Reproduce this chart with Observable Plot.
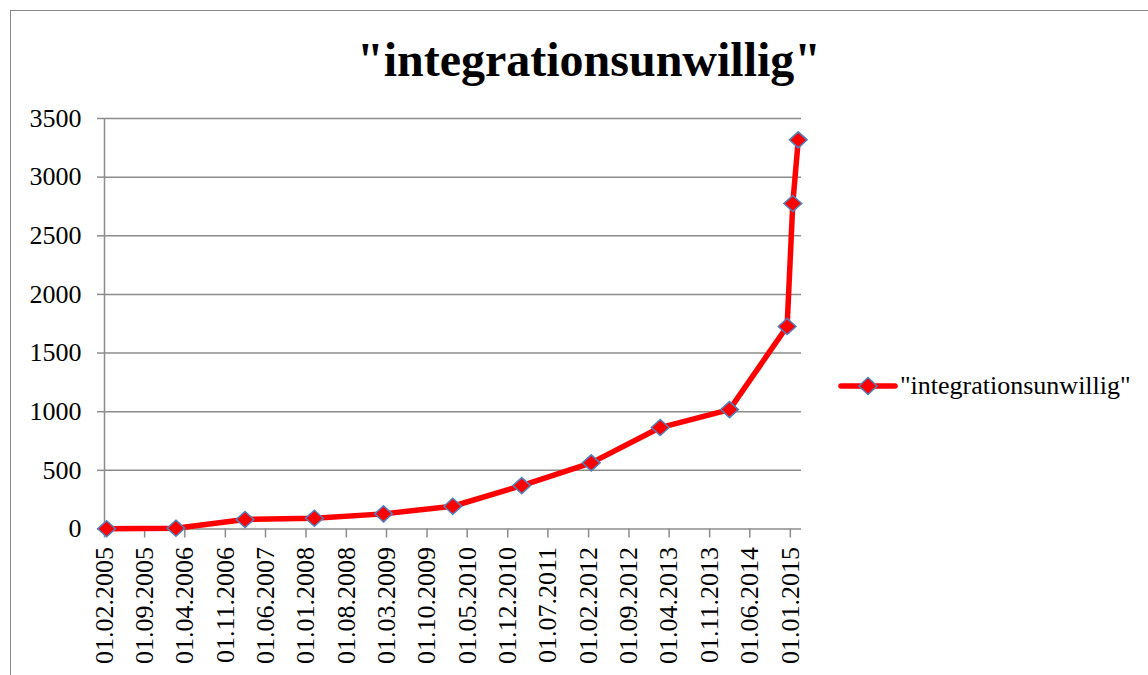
<!DOCTYPE html>
<html>
<head>
<meta charset="utf-8">
<script src="https://cdn.jsdelivr.net/npm/d3@7"></script>
<script src="https://cdn.jsdelivr.net/npm/@observablehq/plot@0.6"></script>
<style>
  html, body { margin: 0; padding: 0; background: #fff; overflow: hidden; width: 1148px; height: 675px; }
  #frame { position: absolute; left: 10px; top: 10px; width: 1300px; height: 800px; border: 1.5px solid #8a8a8a; box-sizing: border-box; }
  #title { position: absolute; left: 0; width: 1178px; top: 30px; text-align: center; font-family: "Liberation Serif", "Times New Roman", serif; font-weight: bold; font-size: 48px; line-height: 60px; color: #000; }
  #chart { position: absolute; left: 0; top: 0; }
  #chart svg, #chart svg text { font-family: "Liberation Serif", "Times New Roman", serif !important; }
  #legend { position: absolute; left: 838px; top: 370px; height: 32px; display: flex; align-items: center; font-family: "Liberation Serif", "Times New Roman", serif; font-size: 26px; color: #000; }
  #legend svg { display: block; }
</style>
</head>
<body>
<div id="frame"></div>
<div id="chart"></div>
<div id="title">"integrationsunwillig"</div>
<div id="legend"></div>
<script>
// ---- data ----
const seriesName = '"integrationsunwillig"';
const dates = ["12.02.2005", "13.02.2006", "13.02.2007", "14.02.2008", "13.02.2009", "14.02.2010",
               "13.02.2011", "15.02.2012", "13.02.2013", "14.02.2014", "15.12.2014", "14.01.2015", "12.02.2015"];
const values = [2, 7, 81, 92, 129, 194, 370, 564, 865, 1018, 1727, 2775, 3318];
const xTickLabels = ["01.02.2005", "01.09.2005", "01.04.2006", "01.11.2006", "01.06.2007", "01.01.2008",
                     "01.08.2008", "01.03.2009", "01.10.2009", "01.05.2010", "01.12.2010", "01.07.2011",
                     "01.02.2012", "01.09.2012", "01.04.2013", "01.11.2013", "01.06.2014", "01.01.2015"];
const xDomain = ["01.02.2005", "01.03.2015"];
const yTicks = [0, 500, 1000, 1500, 2000, 2500, 3000, 3500];

const parse = d3.utcParse("%d.%m.%Y");
const fmt = d3.utcFormat("%d.%m.%Y");
const data = dates.map((d, i) => ({date: parse(d), value: values[i]}));
const tickDates = xTickLabels.map(parse);

const gray = "#8c8c8c";
const red = "#ff0000";
const blue = "#4f81bd";
const serif = "'Liberation Serif', 'Times New Roman', serif";

// custom diamond (square rotated 45°)
const diamond = {
  draw(ctx, size) {
    const r = Math.sqrt(size) * 0.62;
    const rx = r * 1.06, ry = r * 0.96;
    ctx.moveTo(0, -ry); ctx.lineTo(rx, 0); ctx.lineTo(0, ry); ctx.lineTo(-rx, 0); ctx.closePath();
  }
};

const chart = Plot.plot({
  width: 1148,
  height: 675,
  marginLeft: 104,
  marginRight: 347,
  marginTop: 118,
  marginBottom: 146.5,
  style: {fontFamily: serif, fontSize: "26px", background: "transparent", color: "#000", overflow: "visible"},
  x: {type: "utc", domain: xDomain.map(parse)},
  y: {domain: [0, 3500]},
  marks: [
    Plot.gridY(yTicks, {stroke: gray, strokeOpacity: 1, strokeWidth: 1.5}),
    Plot.ruleX([parse(xDomain[0])], {stroke: gray, strokeWidth: 1.5}),
    Plot.axisY(yTicks, {tickSize: 7, tickPadding: 16, stroke: gray, strokeWidth: 1.5, fill: "#000", fontSize: 26, fontFamily: serif, tickFormat: d => String(d), label: null}),
    Plot.axisX(tickDates, {tickSize: 9, tickPadding: 9, tickRotate: -90, tickFormat: fmt, stroke: gray, strokeWidth: 1.5, fill: "#000", fontSize: 26, fontFamily: serif, label: null}),
    Plot.line(data, {x: "date", y: "value", stroke: red, strokeWidth: 5.5, strokeLinejoin: "round"}),
    Plot.dot(data, {x: "date", y: "value", symbol: diamond, r: 7.6, fill: red, stroke: blue, strokeWidth: 1.5})
  ]
});
document.getElementById("chart").appendChild(chart);

// legend
const legend = document.getElementById("legend");
legend.innerHTML =
  `<svg width="60" height="32" viewBox="0 0 60 32">
     <line x1="3" y1="16" x2="57" y2="16" stroke="${red}" stroke-width="5.5" stroke-linecap="round"/>
     <path d="M30,7.5 L39,16 L30,24.5 L21,16 Z" fill="${red}" stroke="${blue}" stroke-width="1.5"/>
   </svg><span style="margin-left:2px">${seriesName}</span>`;
</script>
</body>
</html>
